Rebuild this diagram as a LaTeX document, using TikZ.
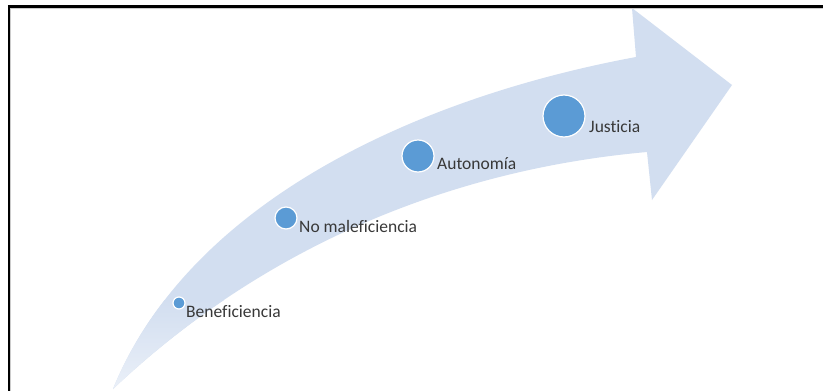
\documentclass[tikz,border=0pt]{standalone}
\usepackage{fontspec}
\setmainfont[Ligatures=NoCommon]{Carlito}
\definecolor{bandcol}{RGB}{210,222,240}
\definecolor{dotcol}{RGB}{91,155,213}
\definecolor{txtcol}{RGB}{56,56,56}
\tikzset{
  dot/.style={circle, fill=dotcol, draw=white, line width=1.2pt, inner sep=0pt},
  lbl/.style={anchor=base west, inner sep=0pt, text=txtcol, font=\fontsize{17.5}{20}\selectfont},
}
\begin{document}
\begin{tikzpicture}[x=1pt,y=-1pt]
\useasboundingbox (0,0) rectangle (823,391);
\fill[white] (0,0) rectangle (823,391);
% arrow band
\def\bandpath{(113,389) .. controls (190,200) and (420,97) .. (636,57)
  -- (632,8) -- (732,85) -- (652,200) -- (647,152)
  .. controls (445,170) and (260,250) .. (113,389) -- cycle}
\fill[bandcol] \bandpath;
\begin{scope}
  \clip \bandpath;
  \shade[bottom color=white!55!bandcol, top color=bandcol] (60,300) rectangle (260,391);
\end{scope}
% frame (top and left only)
\draw[gray!40, line width=1.2pt] (10,8.8) -- (823,8.8);
\draw[gray!40, line width=1.2pt] (10.8,8) -- (10.8,391);
\draw[black, line width=2.4pt] (7.8,6.5) -- (823,6.5);
\draw[black, line width=2.4pt] (9,5.3) -- (9,391);
% dots
\node[dot, minimum size=12pt] (d1) at (179,303) {};
\node[dot, minimum size=22pt] (d2) at (286,218) {};
\node[dot, minimum size=32pt] (d3) at (418,156) {};
\node[dot, minimum size=42pt] (d4) at (564,116) {};
% labels
\node[lbl] (t1) at (186,317) {Beneficiencia};
\node[lbl] (t2) at (299,232) {No maleficiencia};
\node[lbl] (t3) at (437,169) {Autonomía};
\node[lbl] (t4) at (589,132) {Justicia};
\end{tikzpicture}
\end{document}
